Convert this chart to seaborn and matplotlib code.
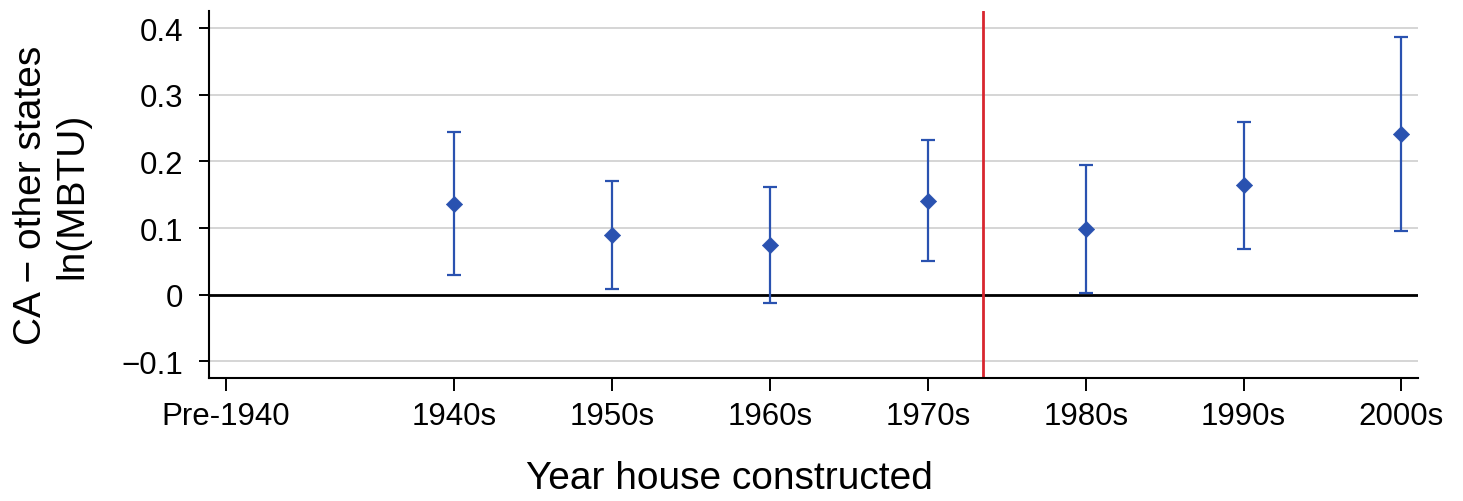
import matplotlib
matplotlib.use("Agg")
import matplotlib.pyplot as plt
import seaborn as sns
import pandas as pd

# Data: CA minus other states, ln(MBTU), by decade of construction
# (Pre-1940 is the omitted reference category, so it has no estimate)
tick_labels = ["Pre-1940", "1940s", "1950s", "1960s", "1970s", "1980s", "1990s", "2000s"]
tick_positions = [1925.5, 1940, 1950, 1960, 1970, 1980, 1990, 2000]
decades = [1940, 1950, 1960, 1970, 1980, 1990, 2000]
estimates = [0.136, 0.090, 0.074, 0.141, 0.098, 0.164, 0.241]
ci_low = [0.029, 0.008, -0.012, 0.051, 0.002, 0.069, 0.095]
ci_high = [0.244, 0.171, 0.161, 0.232, 0.194, 0.259, 0.387]
policy_year = 1973.5

BLUE = "#2a52b0"
RED = "#d8262f"


def build_frame():
    df = pd.DataFrame({"decade": decades, "estimate": estimates,
                       "low": ci_low, "high": ci_high})
    df["err_lo"] = df["estimate"] - df["low"]
    df["err_hi"] = df["high"] - df["estimate"]
    return df


def make_plot(df):
    sns.set_theme(style="whitegrid")
    plt.rcParams["font.family"] = ["Liberation Sans", "DejaVu Sans"]
    plt.rcParams["text.color"] = "black"
    plt.rcParams["axes.labelcolor"] = "black"

    fig, ax = plt.subplots(figsize=(14.63, 5.02), dpi=100)
    fig.subplots_adjust(left=0.1429, right=0.9692, top=0.976, bottom=0.245)

    # grid and reference lines
    ax.xaxis.grid(False)
    ax.yaxis.grid(True, color="#d2d2d2", linewidth=1.3)
    ax.axhline(0, color="black", linewidth=2, zorder=2)
    ax.axvline(policy_year, color=RED, linewidth=2, zorder=2)

    # confidence intervals
    ax.errorbar(df["decade"], df["estimate"], yerr=[df["err_lo"], df["err_hi"]],
                fmt="none", ecolor=BLUE, elinewidth=1.6, capsize=5, capthick=1.6,
                zorder=3)
    # point estimates
    sns.scatterplot(data=df, x="decade", y="estimate", marker="D", s=68,
                    color=BLUE, edgecolor=BLUE, linewidth=0.5, zorder=4, ax=ax)

    ax.set_xlim(1924.45, 2001.05)
    ax.set_ylim(-0.125, 0.4255)
    ax.set_xticks(tick_positions)
    ax.set_xticklabels(tick_labels)
    ax.set_yticks([-0.1, 0, 0.1, 0.2, 0.3, 0.4])
    ax.set_yticklabels(["\u22120.1", "0", "0.1", "0.2", "0.3", "0.4"])

    for side in ["top", "right"]:
        ax.spines[side].set_visible(False)
    for side in ["left", "bottom"]:
        ax.spines[side].set_color("black")
        ax.spines[side].set_linewidth(1.5)

    ax.tick_params(axis="x", direction="out", length=9.4, width=1.4, pad=7,
                   labelsize=22.5, colors="black", bottom=True)
    ax.tick_params(axis="y", direction="out", length=7.5, width=1.4, pad=11,
                   labelsize=22.5, colors="black", left=True)

    ax.set_ylabel("CA \u2212 other states\nln(MBTU)", fontsize=28)
    ax.set_xlabel("Year house constructed", fontsize=28)
    ax.yaxis.set_label_coords(-0.098, 0.5)
    ax.xaxis.set_label_coords(0.4305, -0.223)

    fig.savefig("out.png", dpi=100)
    plt.close(fig)


def main():
    df = build_frame()
    make_plot(df)


if __name__ == "__main__":
    main()
